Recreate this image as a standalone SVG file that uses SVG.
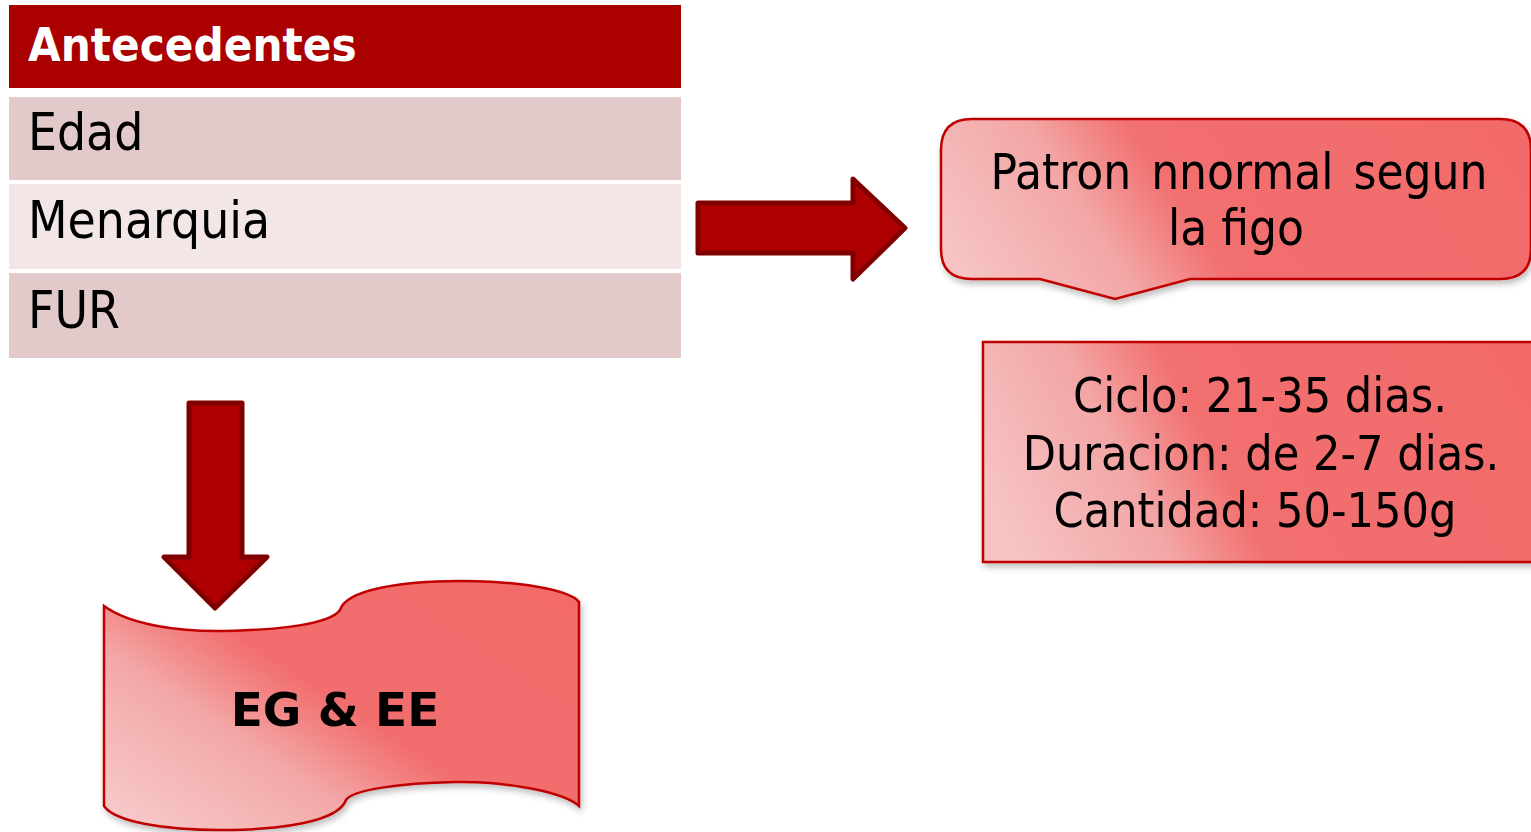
<svg xmlns="http://www.w3.org/2000/svg" width="1531" height="832" viewBox="0 0 1531 832">
<style>
.t{font-family:"DejaVu Sans Condensed","DejaVu Sans",sans-serif;font-stretch:condensed;fill:#000}
.hd{font-family:"DejaVu Sans Condensed","DejaVu Sans",sans-serif;font-stretch:condensed;font-weight:bold;fill:#fff;font-size:47px}
.row{font-size:51px}
.big{font-size:48px}
.sh{stroke:#C00000;stroke-width:2.5}
.arr{fill:#AE0000;stroke:#800000;stroke-width:5;stroke-linejoin:round}
</style>
<defs>
<linearGradient id="g1" x1="0" y1="0.6" x2="1" y2="0.4">
<stop offset="0" stop-color="#F6C2C2"/>
<stop offset="0.25" stop-color="#F3A6A6"/>
<stop offset="0.42" stop-color="#F26F6F"/>
<stop offset="1" stop-color="#F26B6B"/>
</linearGradient>
<linearGradient id="g2" x1="0" y1="0.9" x2="1" y2="0.1">
<stop offset="0" stop-color="#F7C8C8"/>
<stop offset="0.3" stop-color="#F3A8A8"/>
<stop offset="0.5" stop-color="#F26E6E"/>
<stop offset="1" stop-color="#F26B6B"/>
</linearGradient>
<filter id="ds" x="-5%" y="-5%" width="115%" height="120%">
<feDropShadow dx="2" dy="4" stdDeviation="3" flood-color="#000" flood-opacity="0.25"/>
</filter>
</defs>
<rect width="1531" height="832" fill="#fff"/>
<g id="table">
<rect x="9" y="5" width="672" height="83" fill="#AA0000"/>
<text class="hd" x="28" y="61">Antecedentes</text>
<rect x="9" y="97" width="672" height="83" fill="#E3CACA"/>
<text class="t row" x="28" y="150">Edad</text>
<rect x="9" y="184" width="672" height="85" fill="#F2E6E6"/>
<text class="t row" x="28" y="238">Menarquia</text>
<rect x="9" y="273" width="672" height="85" fill="#E3CACA"/>
<text class="t row" x="28" y="328">FUR</text>
</g>
<g id="connectors">
<path class="arr" d="M698,203 L853,203 L853,179 L905,228 L853,279 L853,253 L698,253 Z"/>
<path class="arr" d="M189,403 L242,403 L242,557 L267,557 L215,608 L164,557 L189,557 Z"/>
</g>
<g id="callout" filter="url(#ds)">
<path class="sh" fill="url(#g1)" d="M972,119 L1500,119 Q1531,119 1531,150 L1531,249 Q1531,279 1500,279 L1190,279 L1115,299 L1040,279 L972,279 Q941,279 941,249 L941,150 Q941,119 972,119 Z"/>
<text class="t" x="1239" y="189" text-anchor="middle" style="font-size:49px;word-spacing:6px">Patron nnormal segun</text>
<text class="t" x="1236" y="245" text-anchor="middle" style="font-size:49px">la figo</text>
</g>
<g id="criteria" filter="url(#ds)">
<rect class="sh" fill="url(#g1)" x="983" y="342" width="560" height="220"/>
<text class="t big" x="1260" y="412" text-anchor="middle">Ciclo: 21-35 dias.</text>
<text class="t big" x="1261" y="470" text-anchor="middle">Duracion: de 2-7 dias.</text>
<text class="t big" x="1255" y="527" text-anchor="middle">Cantidad: 50-150g</text>
</g>
<g id="wave" filter="url(#ds)">
<path class="sh" fill="url(#g2)" d="M104,606 C130,625 180,632 225,631 C280,630 330,624 340,610 C346,590 400,581 460,581 C520,581 570,590 579,602 L579,806 C565,793 510,781 455,782 C400,783 352,790 346,800 C338,822 280,830 220,830 C165,830 115,822 104,806 Z"/>
<text x="335" y="726" text-anchor="middle" style="font-family:'DejaVu Sans',sans-serif;font-weight:bold;font-size:47px;fill:#000">EG &amp; EE</text>
</g>
</svg>
